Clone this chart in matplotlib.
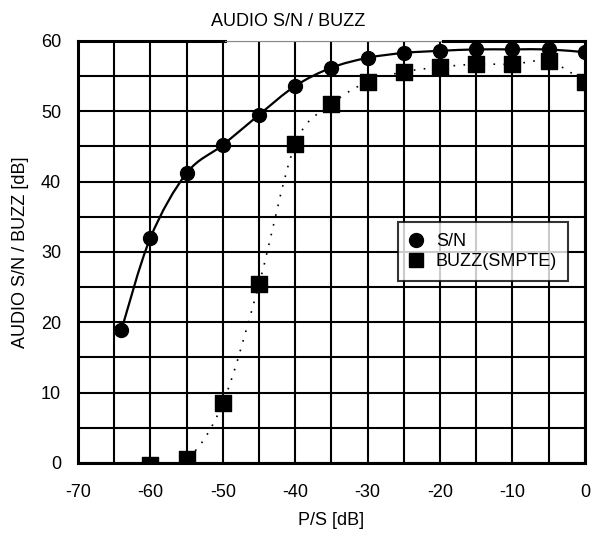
import numpy as np
import matplotlib
matplotlib.use("Agg")
import matplotlib.pyplot as plt
from matplotlib.path import Path
from matplotlib.patches import PathPatch
from matplotlib.lines import Line2D

plt.rcParams['font.family'] = ['Liberation Sans', 'DejaVu Sans']
plt.rcParams['axes.unicode_minus'] = False

# data
sn_x = [-64, -60, -55, -50, -45, -40, -35, -30, -25, -20, -15, -10, -5, 0]
sn_y = [18.9, 32.0, 41.2, 45.2, 49.5, 53.6, 56.2, 57.6, 58.3, 58.6, 58.8, 58.8, 58.8, 58.4]

buzz_x = [-60, -55, -50, -45, -40, -35, -30, -25, -20, -15, -10, -5, 0]
buzz_y = [-0.3, 0.5, 8.5, 25.4, 45.3, 51.0, 54.2, 55.6, 56.3, 56.7, 56.7, 57.1, 54.2]

x_ticks = [-70, -60, -50, -40, -30, -20, -10, 0]
y_ticks = [0, 10, 20, 30, 40, 50, 60]


def smooth_path(xs, ys):
    # Catmull-Rom curve through the points, drawn as cubic Bezier segments
    pts = np.column_stack([xs, ys]).astype(float)
    n = len(pts)
    verts = [pts[0]]
    codes = [Path.MOVETO]
    for i in range(n - 1):
        p0 = pts[max(i - 1, 0)]
        p1 = pts[i]
        p2 = pts[i + 1]
        p3 = pts[min(i + 2, n - 1)]
        c1 = p1 + (p2 - p0) / 6.0
        c2 = p2 - (p3 - p1) / 6.0
        verts += [c1, c2, p2]
        codes += [Path.CURVE4] * 3
    return Path(verts, codes)


fig = plt.figure(figsize=(6.04, 5.35), dpi=100)
ax = fig.add_axes([0.129, 0.1346, 0.8394, 0.7888])

ax.set_xlim(-70, 0)
ax.set_ylim(0, 60)
ax.set_xticks(x_ticks)
ax.set_yticks(y_ticks)
ax.set_xticks(np.arange(-70, 1, 5), minor=True)
ax.set_yticks(np.arange(0, 61, 5), minor=True)
ax.grid(True, which='both', color='black', linewidth=1.5)
ax.set_axisbelow(True)
ax.tick_params(which='both', length=0)
ax.tick_params(axis='x', pad=15, labelsize=13)
ax.tick_params(axis='y', pad=12, labelsize=13)

for side in ['left', 'right', 'bottom']:
    ax.spines[side].set_linewidth(2.2)
ax.spines['top'].set_visible(False)
# top border: interrupted by the title box
ax.axhline(60, xmin=0, xmax=0.29, color='black', linewidth=2.2, clip_on=False)
ax.axhline(60, xmin=0.29, xmax=0.72, color='#888888', linewidth=0.8, clip_on=False)
ax.axhline(60, xmin=0.72, xmax=1, color='black', linewidth=2.2, clip_on=False)

sn_patch = PathPatch(smooth_path(sn_x, sn_y), facecolor='none', edgecolor='black',
                     linewidth=1.6, zorder=3)
ax.add_patch(sn_patch)
buzz_patch = PathPatch(smooth_path(buzz_x, buzz_y), facecolor='none', edgecolor='black',
                       linewidth=1.2, linestyle=(0, (1, 5)), zorder=3)
ax.add_patch(buzz_patch)

ax.scatter(sn_x, sn_y, marker='o', color='black', s=100, zorder=4)
ax.scatter(buzz_x, buzz_y, marker='s', color='black', s=121, zorder=4)

ax.text(0.414, 1.045, "AUDIO S/N / BUZZ", transform=ax.transAxes, ha='center',
        va='center', fontsize=13)

ax.set_xlabel("P/S [dB]", fontsize=13, labelpad=8)
ax.set_ylabel("AUDIO S/N / BUZZ [dB]", fontsize=13)
ax.yaxis.set_label_coords(-0.097, 0.5)

handles = [Line2D([], [], marker='o', color='black', linestyle='none', markersize=10),
           Line2D([], [], marker='s', color='black', linestyle='none', markersize=10)]
leg = ax.legend(handles, ["S/N", "BUZZ(SMPTE)"], loc='upper left',
                bbox_to_anchor=(0.631, 0.571), borderaxespad=0, fontsize=13,
                frameon=True, fancybox=False, edgecolor='black', handlelength=0.8,
                handletextpad=0.7, borderpad=0.6, labelspacing=0.2)
leg.get_frame().set_linewidth(1.5)
leg.set_zorder(5)

fig.savefig("out.png", dpi=100)
plt.close()
